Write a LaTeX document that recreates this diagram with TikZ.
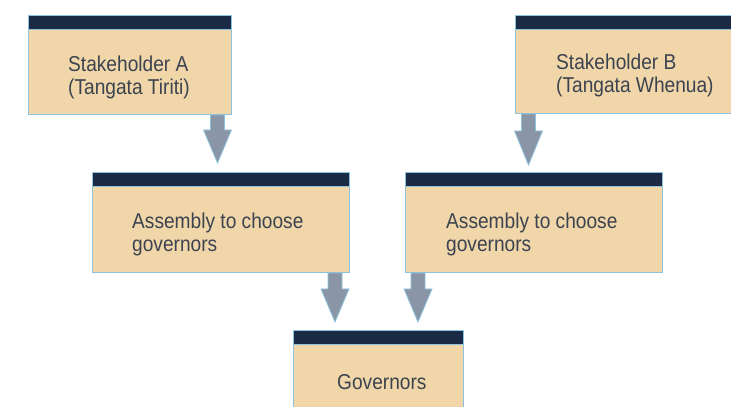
\documentclass[tikz,border=0pt]{standalone}
\usepackage{fontspec}
\setmainfont{Liberation Sans}[FakeStretch=0.89]
\usetikzlibrary{calc}
\definecolor{boxfill}{HTML}{F0D6A8}
\definecolor{boxline}{HTML}{8EC3DE}
\definecolor{bandcol}{HTML}{1B2B45}
\definecolor{arrowfill}{HTML}{8A95A5}
\definecolor{txtcol}{HTML}{3C4350}
\newcommand\blockarr[5]{% from, to, x-coordinate name, head start below, tip gap
  \path (#1.south -| #3) coordinate (s) (#2.north -| #3) coordinate (t);
  \draw[arrowstyle] ($(s)+(-7,0)$) -- ($(s)+(7,0)$) -- ($(s)+(7,#4)$) -- ($(s)+(14,#4)$)
    -- ($(t)+(0,-#5)$) -- ($(s)+(-14,#4)$) -- ($(s)+(-7,#4)$) -- cycle;
}
\begin{document}
\begin{tikzpicture}[x=1pt,y=-1pt,
  box/.style={draw=boxline, fill=boxfill, line width=0.9pt, rectangle, inner sep=0pt, anchor=north west},
  bandstyle/.style={draw=boxline, fill=bandcol, line width=0.9pt},
  lbl/.style={anchor=base west, align=left, inner sep=0pt, text=txtcol, font=\fontsize{21.5}{22.5}\selectfont},
  arrowstyle/.style={fill=arrowfill, draw=boxline, line width=0.8pt}]
\useasboundingbox (0,0) rectangle (731,407);
% boxes
\node[box, minimum width=203pt, minimum height=99pt] (sa) at (28,15) {};
\node[box, minimum width=220pt, minimum height=98pt] (sb) at (515,15) {};
\node[box, minimum width=257pt, minimum height=100pt] (aa) at (92,172) {};
\node[box, minimum width=257pt, minimum height=100pt] (ab) at (405,172) {};
\node[box, minimum width=170pt, minimum height=85pt] (gv) at (293,330) {};
% bands
\foreach \n in {sa,sb,aa,ab,gv}{
  \draw[bandstyle] (\n.north west) rectangle ($(\n.north east)+(0,14)$);
}
% labels (anchored at the baseline of the last line)
\node[lbl] (tsa) at (68,94) {Stakeholder A\\(Tangata Tiriti)};
\node[lbl] (tsb) at (556,92) {Stakeholder B\\(Tangata Whenua)};
\node[lbl] (taa) at (132,251) {Assembly to choose\\governors};
\node[lbl] (tab) at (446,251) {Assembly to choose\\governors};
\node[lbl] (tgv) at (337,389) {Governors};
% arrows
\coordinate (x1) at (217.5,0);
\coordinate (x2) at (528.5,0);
\coordinate (x3) at (335,0);
\coordinate (x4) at (418,0);
\blockarr{sa}{aa}{x1}{15}{9}
\blockarr{sb}{ab}{x2}{17}{7}
\blockarr{aa}{gv}{x3}{16}{8}
\blockarr{ab}{gv}{x4}{16}{8}
\end{tikzpicture}
\end{document}
